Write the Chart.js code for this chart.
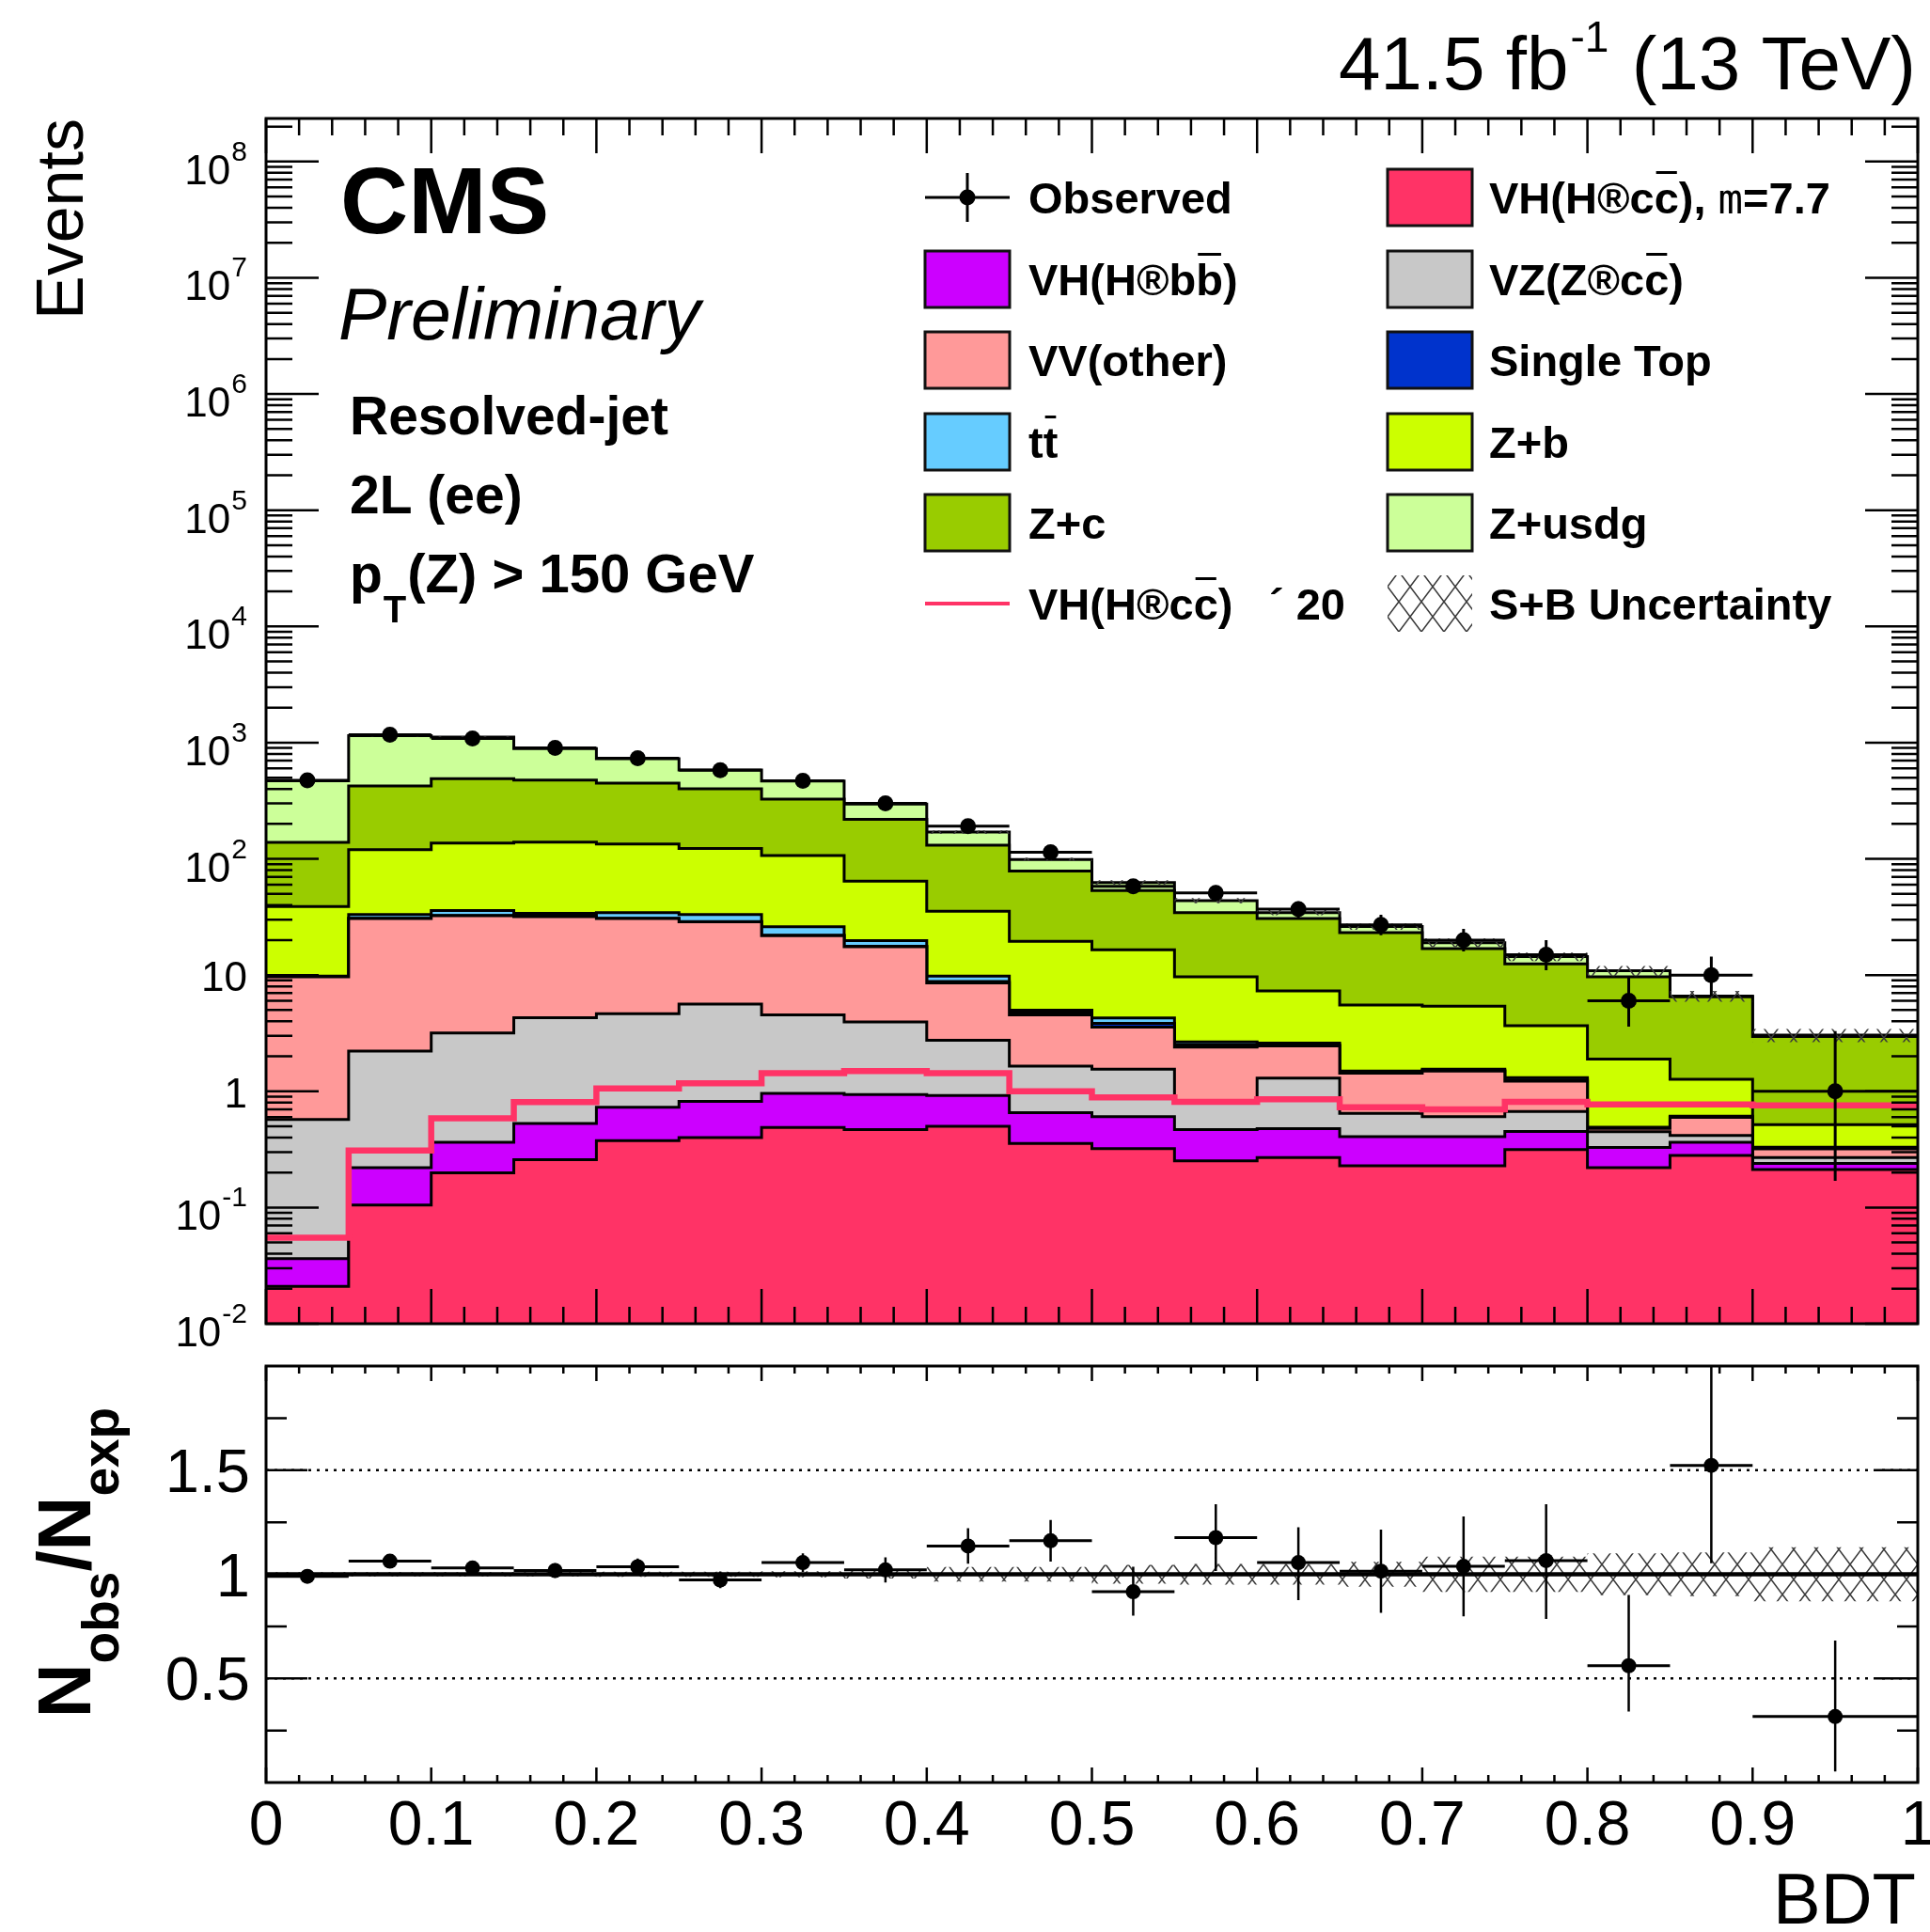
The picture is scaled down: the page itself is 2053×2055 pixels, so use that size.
<!DOCTYPE html>
<html>
<head>
<meta charset="utf-8">
<script src="https://cdn.jsdelivr.net/npm/chart.js@4.4.1/dist/chart.umd.min.js"></script>
<style>
  html, body { margin: 0; padding: 0; background: #fff; }
  #wrap { position: relative; width: 2053px; height: 2055px; overflow: hidden; }
  canvas { position: absolute; left: 0; }
  #mainCanvas { top: 0; }
  #ratioCanvas { top: 1440px; }
</style>
</head>
<body>
<div id="wrap">
  <canvas id="mainCanvas" width="2053" height="1440"></canvas>
  <canvas id="ratioCanvas" width="2053" height="615"></canvas>
</div>
<script>
// BDT bins (last bin is double width)
const binEdges = [0, 0.05, 0.1, 0.15, 0.2, 0.25, 0.3, 0.35, 0.4, 0.45, 0.5, 0.55, 0.6, 0.65, 0.7, 0.75, 0.8, 0.85, 0.9, 1.0];

// per-process yields, stack order bottom -> top
const vhcc      = [0.021, 0.105, 0.199, 0.258, 0.376, 0.40, 0.489, 0.469, 0.50, 0.355, 0.321, 0.252, 0.269, 0.229, 0.229, 0.315, 0.22, 0.28, 0.212];
const vhbb      = [0.0153, 0.115, 0.165, 0.27, 0.352, 0.42, 0.47, 0.469, 0.42, 0.30, 0.284, 0.217, 0.208, 0.178, 0.178, 0.136, 0.108, 0.084, 0.027];
const vzcc      = [0.536, 2.0, 2.81, 3.76, 3.92, 4.8, 3.58, 3.02, 1.83, 0.99, 0.945, 0.35, 0.823, 0.238, 0.198, 0.22, 0.122, 0.053, 0.03];
const vvOther   = [9.09, 28.4, 29.2, 27.6, 25.95, 23.1, 17.26, 13.54, 5.82, 2.89, 2.02, 1.58, 1.16, 0.785, 0.885, 0.549, 0.03, 0.179, 0.051];
const singleTop = [0.04, 0.2, 0.2, 0.2, 0.2, 0.2, 0.2, 0.2, 0.23, 0.21, 0.28, 0.1, 0.06, 0.03, 0.02, 0.03, 0.005, 0.004, 0.003];
const ttbar     = [0.1, 2.4, 3.4, 1.9, 3.7, 4.3, 4.1, 2.1, 1.02, 0.24, 0.43, 0.16, 0.08, 0.03, 0.04, 0.06, 0.005, 0.01, 0.007];
const zb        = [29.1, 86.8, 101, 105, 99.5, 89.8, 80.9, 44.5, 25.6, 14.5, 12.2, 7.0, 4.71, 4.04, 3.85, 2.35, 1.40, 0.66, 0.186];
const zc        = [100, 304, 352, 338, 314, 278, 219, 155, 95.6, 58.9, 37.0, 24.8, 23.3, 17.7, 11.5, 8.84, 7.77, 5.22, 2.45];
const zusdg     = [331, 722, 630, 412, 280, 181, 141, 77, 39, 20.4, 9.2, 9.3, 3.9, 2.9, 2.1, 1.9, 1.24, 0.11, 0.08];

// VH(cc) x 20 overlay
const vhccX20   = [0.055, 0.31, 0.586, 0.807, 1.06, 1.17, 1.43, 1.49, 1.43, 1.0, 0.887, 0.81, 0.853, 0.73, 0.70, 0.81, 0.77, 0.77, 0.757];

// observed events and error-bar ends
const obsCounts = [475, 1170, 1085, 900, 735, 580, 470, 300, 191, 114, 58, 51, 37, 27, 20, 15, 6, 10, 1];
const obsLow    = [453, 1136, 1052, 870, 708, 556, 448, 283, 177, 103, 50, 44, 31, 22, 16, 11, 3.6, 6.6, 0.17];
const obsHigh   = [497, 1204, 1118, 930, 762, 604, 492, 317, 205, 125, 66, 59, 43, 33, 25, 20, 9.6, 14.4, 3.3];

// relative S+B uncertainty
const uncRel    = [0.01, 0.01, 0.01, 0.01, 0.012, 0.012, 0.015, 0.02, 0.035, 0.035, 0.045, 0.05, 0.05, 0.06, 0.085, 0.085, 0.1, 0.105, 0.13];

// ratio panel
const ratioVals   = [0.99, 1.063, 1.03, 1.018, 1.036, 0.973, 1.056, 1.021, 1.136, 1.161, 0.916, 1.176, 1.056, 1.015, 1.038, 1.066, 0.561, 1.523, 0.317];
const ratioErrLo  = [0.02, 0.03, 0.03, 0.035, 0.04, 0.04, 0.045, 0.06, 0.085, 0.1, 0.115, 0.16, 0.18, 0.2, 0.24, 0.28, 0.22, 0.47, 0.264];
const ratioErrHi  = [0.02, 0.03, 0.03, 0.035, 0.04, 0.04, 0.045, 0.06, 0.085, 0.1, 0.12, 0.16, 0.17, 0.2, 0.24, 0.27, 0.34, 0.6, 0.365];
const ratioRefDotted = [0.5, 1.5];

// tick labels
const logTickVals = [1e-2, 1e-1, 1, 10, 1e2, 1e3, 1e4, 1e5, 1e6, 1e7, 1e8];
const logTickBase = ["10", "10", "1", "10", "10", "10", "10", "10", "10", "10", "10"];
const logTickExp  = ["-2", "-1", "", "", "2", "3", "4", "5", "6", "7", "8"];
const xTickVals   = [0, 0.1, 0.2, 0.3, 0.4, 0.5, 0.6, 0.7, 0.8, 0.9, 1];
const xTickLabels = ["0", "0.1", "0.2", "0.3", "0.4", "0.5", "0.6", "0.7", "0.8", "0.9", "1"];
const ratioTickVals   = [0.5, 1, 1.5];
const ratioTickLabels = ["0.5", "1", "1.5"];

const colors = {
  vhcc: "#ff3366", vhbb: "#cc00ff", vzcc: "#c8c8c8", vv: "#ff9999", st: "#0033cc",
  tt: "#66ccff", zb: "#ccff00", zc: "#99cc00", zusdg: "#ccff99",
};

const stackParts = [
  { values: vhcc, color: colors.vhcc },
  { values: vhbb, color: colors.vhbb },
  { values: vzcc, color: colors.vzcc },
  { values: vvOther, color: colors.vv },
  { values: singleTop, color: colors.st },
  { values: ttbar, color: colors.tt },
  { values: zb, color: colors.zb },
  { values: zc, color: colors.zc },
  { values: zusdg, color: colors.zusdg },
];

const FONT = '"Liberation Sans", Arial, Helvetica, sans-serif';
const nBins = obsCounts.length;
const binCentres = binEdges.slice(0, -1).map((e, i) => (e + binEdges[i + 1]) / 2);

function steps(vals) {
  const pts = vals.map((v, i) => ({ x: binEdges[i], y: v }));
  pts.push({ x: binEdges[vals.length], y: vals[vals.length - 1] });
  return pts;
}
function vBars(lo, hi) {
  const pts = [];
  binCentres.forEach((c, i) => pts.push({ x: c, y: lo[i] }, { x: c, y: hi[i] }, { x: c, y: null }));
  return pts;
}
function hBars(vals) {
  const pts = [];
  vals.forEach((v, i) => pts.push({ x: binEdges[i], y: v }, { x: binEdges[i + 1], y: v }, { x: binEdges[i + 1], y: null }));
  return pts;
}
function lineSet(data, extra) {
  return Object.assign({ type: "line", data, pointRadius: 0, borderColor: "#000", borderWidth: 3, fill: false, spanGaps: false, tension: 0 }, extra);
}
function makeHatch(ctx) {
  const t = document.createElement("canvas");
  t.width = 24; t.height = 32;
  const g = t.getContext("2d");
  g.strokeStyle = "#3a3a3a"; g.lineWidth = 1.6;
  g.beginPath();
  for (const dx of [-24, 0, 24]) {
    g.moveTo(dx, 0); g.lineTo(dx + 24, 32);
    g.moveTo(dx + 24, 0); g.lineTo(dx, 32);
  }
  g.stroke();
  return ctx.createPattern(t, "repeat");
}

// ---------- main panel ----------
const mainCtx = document.getElementById("mainCanvas").getContext("2d");
const hatchMain = makeHatch(mainCtx);

let running = new Array(nBins).fill(0);
const stackSets = stackParts.map((p, k) => {
  running = running.map((r, i) => r + p.values[i]);
  return lineSet(steps(running), { stepped: true, backgroundColor: p.color, fill: k === 0 ? "start" : "-1", borderWidth: 3 });
});
const total = running.slice();
const bandLo = lineSet(steps(total.map((t, i) => t * (1 - uncRel[i]))), { stepped: true, borderWidth: 0, order: -1 });
const bandHi = lineSet(steps(total.map((t, i) => t * (1 + uncRel[i]))), { stepped: true, borderWidth: 0, fill: "-1", backgroundColor: hatchMain, order: -1 });
const sigLine = lineSet(steps(vhccX20), { stepped: true, borderColor: colors.vhcc, borderWidth: 6.5, order: -2 });
const obsV = lineSet(vBars(obsLow, obsHigh), { borderWidth: 3, order: -3 });
const obsH = lineSet(hBars(obsCounts), { borderWidth: 3, order: -3 });
const obsPts = lineSet(binCentres.map((c, i) => ({ x: c, y: obsCounts[i] })), { showLine: false, pointRadius: 8.5, pointBackgroundColor: "#000", pointBorderWidth: 0, order: -4 });

const legendItems = [
  { col: 0, row: 0, kind: "obs", parts: [{ t: "Observed" }] },
  { col: 1, row: 0, kind: "box", color: colors.vhcc, parts: [{ t: "VH(H®c" }, { t: "c", bar: true }, { t: "), " }, { t: "m", mono: true }, { t: "=7.7" }] },
  { col: 0, row: 1, kind: "box", color: colors.vhbb, parts: [{ t: "VH(H®b" }, { t: "b", bar: true }, { t: ")" }] },
  { col: 1, row: 1, kind: "box", color: colors.vzcc, parts: [{ t: "VZ(Z®c" }, { t: "c", bar: true }, { t: ")" }] },
  { col: 0, row: 2, kind: "box", color: colors.vv, parts: [{ t: "VV(other)" }] },
  { col: 1, row: 2, kind: "box", color: colors.st, parts: [{ t: "Single Top" }] },
  { col: 0, row: 3, kind: "box", color: colors.tt, parts: [{ t: "t" }, { t: "t", bar: true }] },
  { col: 1, row: 3, kind: "box", color: colors.zb, parts: [{ t: "Z+b" }] },
  { col: 0, row: 4, kind: "box", color: colors.zc, parts: [{ t: "Z+c" }] },
  { col: 1, row: 4, kind: "box", color: colors.zusdg, parts: [{ t: "Z+usdg" }] },
  { col: 0, row: 5, kind: "line", color: colors.vhcc, parts: [{ t: "VH(H®c" }, { t: "c", bar: true }, { t: ")" }, { t: "´ 20", at: 1350 }] },
  { col: 1, row: 5, kind: "hatch", parts: [{ t: "S+B Uncertainty" }] },
];
const LEG = { boxX: [984, 1476], boxW: 90, boxH: 60, textX: [1094, 1584], rowY: [210, 297, 383, 470, 556, 642] };

function drawLegend(ctx) {
  ctx.save();
  for (const it of legendItems) {
    const bx = LEG.boxX[it.col], cy = LEG.rowY[it.row];
    if (it.kind === "box") {
      ctx.fillStyle = it.color;
      ctx.fillRect(bx, cy - LEG.boxH / 2, LEG.boxW, LEG.boxH);
      ctx.strokeStyle = "#111"; ctx.lineWidth = 3;
      ctx.strokeRect(bx, cy - LEG.boxH / 2, LEG.boxW, LEG.boxH);
    } else if (it.kind === "hatch") {
      ctx.fillStyle = hatchMain;
      ctx.fillRect(bx, cy - LEG.boxH / 2, LEG.boxW, LEG.boxH);
    } else if (it.kind === "line") {
      ctx.strokeStyle = it.color; ctx.lineWidth = 4;
      ctx.beginPath(); ctx.moveTo(bx, cy); ctx.lineTo(bx + LEG.boxW, cy); ctx.stroke();
    } else if (it.kind === "obs") {
      ctx.strokeStyle = "#000"; ctx.lineWidth = 3;
      ctx.beginPath();
      ctx.moveTo(bx, cy); ctx.lineTo(bx + LEG.boxW, cy);
      ctx.moveTo(bx + LEG.boxW / 2, cy - 26); ctx.lineTo(bx + LEG.boxW / 2, cy + 26);
      ctx.stroke();
      ctx.fillStyle = "#000";
      ctx.beginPath(); ctx.arc(bx + LEG.boxW / 2, cy, 8.5, 0, Math.PI * 2); ctx.fill();
    }
    let tx = LEG.textX[it.col];
    const by = cy + 17;
    ctx.fillStyle = "#000"; ctx.textAlign = "left"; ctx.textBaseline = "alphabetic";
    for (const p of it.parts) {
      if (p.at) tx = p.at;
      ctx.font = p.mono ? '44px "DejaVu Sans Mono", monospace' : "bold 47px " + FONT;
      ctx.fillText(p.t, tx, by);
      const w = ctx.measureText(p.t).width;
      if (p.bar) ctx.fillRect(tx + 2, by - 45, w - 4, 3);
      tx += w;
    }
  }
  ctx.restore();
}

function drawMainDecor(chart) {
  const { ctx, chartArea: a, scales: { x, y } } = chart;
  ctx.save();
  ctx.strokeStyle = "#000";
  // ticks
  ctx.lineWidth = 2.5;
  ctx.beginPath();
  for (let i = 0; i <= 50; i++) {
    const px = x.getPixelForValue(i * 0.02);
    const len = i % 5 === 0 ? 37 : 18;
    ctx.moveTo(px, a.bottom); ctx.lineTo(px, a.bottom - len);
    ctx.moveTo(px, a.top); ctx.lineTo(px, a.top + len);
  }
  for (let e = -2; e <= 8; e++) {
    for (let m = 1; m <= 9; m++) {
      const v = m * Math.pow(10, e);
      if (v > y.max * 1.0001) continue;
      const py = y.getPixelForValue(v);
      const len = m === 1 ? 56 : 28;
      ctx.moveTo(a.left, py); ctx.lineTo(a.left + len, py);
      ctx.moveTo(a.right, py); ctx.lineTo(a.right - len, py);
    }
  }
  ctx.stroke();
  ctx.lineWidth = 3;
  ctx.strokeRect(a.left, a.top, a.right - a.left, a.bottom - a.top);

  // log y labels
  ctx.fillStyle = "#000"; ctx.textBaseline = "alphabetic";
  logTickVals.forEach((v, i) => {
    const py = y.getPixelForValue(v);
    const right = 263;
    if (logTickExp[i]) {
      ctx.font = "30px " + FONT;
      const ws = ctx.measureText(logTickExp[i]).width;
      ctx.textAlign = "right";
      ctx.fillText(logTickExp[i], right, py - 1);
      ctx.font = "44px " + FONT;
      ctx.fillText(logTickBase[i], right - ws - 1, py + 24);
    } else {
      ctx.font = "44px " + FONT;
      ctx.textAlign = "right";
      ctx.fillText(logTickBase[i], right, py + 17);
    }
  });

  // titles and labels
  ctx.textAlign = "left";
  ctx.font = "bold 100px " + FONT;
  ctx.fillText("CMS", 362, 248);
  ctx.font = "italic 77px " + FONT;
  ctx.fillText("Preliminary", 360, 361);
  ctx.font = "bold 57px " + FONT;
  ctx.fillText("Resolved-jet", 372, 462);
  ctx.fillText("2L (ee)", 372, 546);
  ctx.fillText("p", 372, 630);
  let px = 372 + ctx.measureText("p").width + 1;
  ctx.font = "bold 40px " + FONT;
  ctx.fillText("T", px, 662);
  px += ctx.measureText("T").width + 1;
  ctx.font = "bold 58px " + FONT;
  ctx.fillText("(Z) > 150 GeV", px, 630);

  // lumi title, right aligned
  ctx.font = "80px " + FONT;
  const t1 = "41.5 fb", t3 = " (13 TeV)";
  const w1 = ctx.measureText(t1).width, w3 = ctx.measureText(t3).width;
  ctx.font = "46px " + FONT;
  const w2 = ctx.measureText("-1").width + 4;
  const x0 = 2038 - (w1 + w2 + w3);
  ctx.font = "80px " + FONT;
  ctx.fillText(t1, x0, 95);
  ctx.fillText(t3, x0 + w1 + w2, 95);
  ctx.font = "46px " + FONT;
  ctx.fillText("-1", x0 + w1 + 2, 55);

  // y axis title
  ctx.save();
  ctx.translate(88, 126);
  ctx.rotate(-Math.PI / 2);
  ctx.textAlign = "right";
  ctx.font = "70px " + FONT;
  ctx.fillText("Events", 0, 0);
  ctx.restore();

  drawLegend(ctx);
  ctx.restore();
}

new Chart(mainCtx, {
  type: "line",
  data: { datasets: [...stackSets, bandLo, bandHi, sigLine, obsV, obsH, obsPts] },
  options: {
    responsive: false,
    animation: false,
    events: [],
    layout: { padding: { left: 283, right: 13, top: 126, bottom: 32 } },
    plugins: { legend: { display: false }, tooltip: { enabled: false } },
    scales: {
      x: { type: "linear", min: 0, max: 1, display: false },
      y: { type: "logarithmic", min: 0.01, max: 2.35e8, display: false },
    },
  },
  plugins: [{ id: "mainDecor", afterDraw: drawMainDecor }],
});

// ---------- ratio panel ----------
const ratioCtx = document.getElementById("ratioCanvas").getContext("2d");
const hatchRatio = makeHatch(ratioCtx);

const rBandLo = lineSet(steps(uncRel.map(u => 1 - u)), { stepped: true, borderWidth: 0, order: 5 });
const rBandHi = lineSet(steps(uncRel.map(u => 1 + u)), { stepped: true, borderWidth: 0, fill: "-1", backgroundColor: hatchRatio, order: 5 });
const unity = lineSet([{ x: 0, y: 1 }, { x: 1, y: 1 }], { borderWidth: 4.5, order: 3 });
const dotted = ratioRefDotted.map(v => lineSet([{ x: 0, y: v }, { x: 1, y: v }], { borderWidth: 2.5, borderDash: [3, 6], order: 4 }));
const rErrV = lineSet(vBars(ratioVals.map((r, i) => r - ratioErrLo[i]), ratioVals.map((r, i) => r + ratioErrHi[i])), { borderWidth: 2.5, order: 2 });
const rErrH = lineSet(hBars(ratioVals), { borderWidth: 3, order: 2 });
const rPts = lineSet(binCentres.map((c, i) => ({ x: c, y: ratioVals[i] })), { showLine: false, pointRadius: 8, pointBackgroundColor: "#000", pointBorderWidth: 0, order: 1 });

function drawRatioDecor(chart) {
  const { ctx, chartArea: a, scales: { x, y } } = chart;
  ctx.save();
  ctx.strokeStyle = "#000";
  ctx.lineWidth = 2.5;
  ctx.beginPath();
  for (let i = 0; i <= 50; i++) {
    const px = x.getPixelForValue(i * 0.02);
    const len = i % 5 === 0 ? 16 : 8;
    ctx.moveTo(px, a.bottom); ctx.lineTo(px, a.bottom - len);
    ctx.moveTo(px, a.top); ctx.lineTo(px, a.top + len);
  }
  for (let k = 1; k <= 7; k++) {
    const py = y.getPixelForValue(k * 0.25);
    const len = k % 2 === 0 ? 44 : 22;
    ctx.moveTo(a.left, py); ctx.lineTo(a.left + len, py);
    ctx.moveTo(a.right, py); ctx.lineTo(a.right - len, py);
  }
  ctx.stroke();
  ctx.lineWidth = 3;
  ctx.strokeRect(a.left, a.top, a.right - a.left, a.bottom - a.top);

  ctx.fillStyle = "#000";
  ctx.textBaseline = "alphabetic";
  ctx.font = "65px " + FONT;
  ctx.textAlign = "right";
  ratioTickVals.forEach((v, i) => ctx.fillText(ratioTickLabels[i], 266, y.getPixelForValue(v) + 23));
  ctx.textAlign = "center";
  ctx.font = "66px " + FONT;
  xTickVals.forEach((v, i) => ctx.fillText(xTickLabels[i], x.getPixelForValue(v), 522));
  ctx.textAlign = "right";
  ctx.font = "76px " + FONT;
  ctx.fillText("BDT", 2038, 606);

  // N_obs / N_exp
  const parts = [
    { t: "N", size: 80, dy: 0 }, { t: "obs", size: 55, dy: 30 },
    { t: "/", size: 80, dy: 0 }, { t: "N", size: 80, dy: 0 }, { t: "exp", size: 55, dy: 30 },
  ];
  let totalW = 0;
  parts.forEach(p => { ctx.font = "bold " + p.size + "px " + FONT; p.w = ctx.measureText(p.t).width; totalW += p.w; });
  ctx.save();
  ctx.translate(96, 222);
  ctx.rotate(-Math.PI / 2);
  ctx.textAlign = "left";
  let cx = -totalW / 2;
  parts.forEach(p => { ctx.font = "bold " + p.size + "px " + FONT; ctx.fillText(p.t, cx, p.dy); cx += p.w; });
  ctx.restore();
  ctx.restore();
}

new Chart(ratioCtx, {
  type: "line",
  data: { datasets: [rBandLo, rBandHi, unity, ...dotted, rErrV, rErrH, rPts] },
  options: {
    responsive: false,
    animation: false,
    events: [],
    layout: { padding: { left: 283, right: 13, top: 13, bottom: 159 } },
    plugins: { legend: { display: false }, tooltip: { enabled: false } },
    scales: {
      x: { type: "linear", min: 0, max: 1, display: false },
      y: { type: "linear", min: 0, max: 2, display: false },
    },
  },
  plugins: [{ id: "ratioDecor", afterDraw: drawRatioDecor }],
});
</script>
</body>
</html>
